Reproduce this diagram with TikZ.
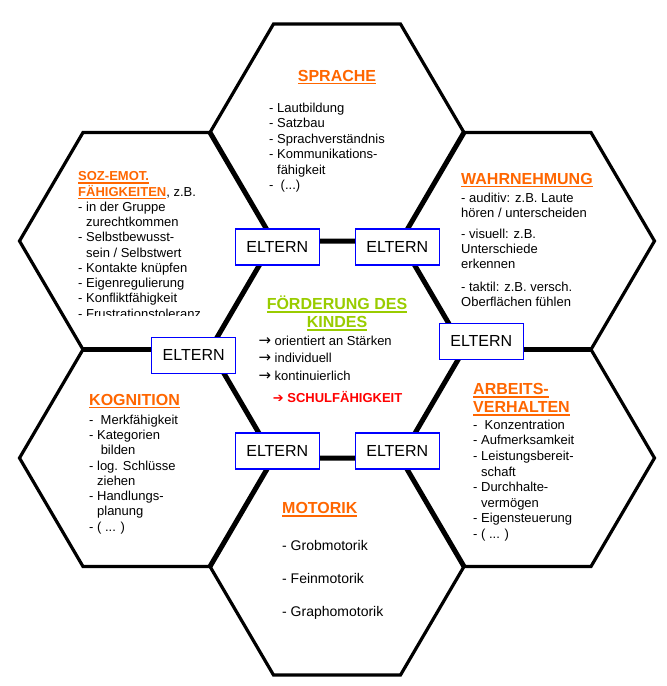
\documentclass[tikz,border=0pt]{standalone}
\usepackage{fontspec}
\setmainfont{Liberation Sans}
\newfontfamily\arrowfont{DejaVu Sans}
\usepackage{xcolor}
\usetikzlibrary{positioning}
\definecolor{headorange}{HTML}{FF6600}
\definecolor{headgreen}{HTML}{99CC00}
\definecolor{alertred}{HTML}{FF0000}
\definecolor{boxblue}{HTML}{0000FF}
\newcommand{\ulhead}[1]{\leavevmode\vtop{\hbox{#1}\kern1.5pt\hrule height 1.7pt}}
\newcommand{\toarrow}{{\arrowfont\fontsize{15}{15}\selectfont →}}
\tikzset{
    hexa/.style={
        draw,
        line width=3.2pt,
        line join=miter
    },
    spoke/.style={
        draw,
        line width=5pt
    },
    eltern/.style={
        draw=boxblue,
        fill=white,
        line width=1.3pt,
        minimum width=84pt,
        minimum height=36pt,
        inner sep=0pt,
        font=\fontsize{16}{19}\selectfont
    },
    txt/.style={
        anchor=base west,
        align=left,
        inner sep=0pt,
        font=\fontsize{13}{15.25}\selectfont
    },
    head/.style={
        anchor=base west,
        align=left,
        inner sep=0pt,
        text=headorange,
        font=\fontsize{16}{18}\selectfont\bfseries
    }
}

\begin{document}
\begin{tikzpicture}[x=1pt, y=-1pt]
  \useasboundingbox (0,0) rectangle (667,686);

  % Outer hexagons
  \foreach \cx/\cy in {337/132.5, 146.5/241, 527.5/241, 146.5/458, 527.5/458, 337/566.5}
    \draw[hexa] (\cx-127,\cy) -- (\cx-63.5,\cy-108.5) -- (\cx+63.5,\cy-108.5)
      -- (\cx+127,\cy) -- (\cx+63.5,\cy+108.5) -- (\cx-63.5,\cy+108.5) -- cycle;

  % Centre hexagon and shared edges
  \draw[spoke] (210,349.5) -- (273.5,241) -- (400.5,241) -- (464,349.5)
    -- (400.5,458) -- (273.5,458) -- cycle;
  \foreach \ax/\ay/\bx/\by in {273.5/241/210/132.5, 400.5/241/464/132.5,
      210/349.5/83/349.5, 464/349.5/591/349.5,
      273.5/458/210/566.5, 400.5/458/464/566.5}
    \draw[spoke] (\ax,\ay) -- (\bx,\by);

  % Sprache (multi-line nodes sit on their last baseline)
  \node[head, anchor=base] (sprache) at (337,81) {\ulhead{SPRACHE}};
  \node[txt, font=\fontsize{13}{15.5}\selectfont] (sprachelist) at (269,189.5)
    {- Lautbildung\\- Satzbau\\- Sprachverständnis\\- Kommunikations-\\\hphantom{- }fähigkeit\\-~~(...)};

  % Soz.-emot. Faehigkeiten
  \begin{scope}
    \clip (0,0) rectangle (300,315);
    \node[txt] (soz) at (78,318)
      {{\bfseries\color{headorange}\ulhead{SOZ-EMOT.}}\\{\bfseries\color{headorange}\ulhead{FÄHIGKEITEN}}, z.B.\\- in der Gruppe\\\hphantom{- }zurechtkommen\\- Selbstbewusst-\\\hphantom{- }sein / Selbstwert\\- Kontakte knüpfen\\- Eigenregulierung\\- Konfliktfähigkeit\\- Frustrationstoleranz};
  \end{scope}

  % Wahrnehmung
  \node[head] (wahr) at (461,184) {\ulhead{WAHRNEHMUNG}};
  \node[txt, font=\fontsize{13}{15.1}\selectfont] (wahrlist) at (461,306.1)
    {- auditiv: z.B. Laute\\hören / unterscheiden\\[6pt]- visuell: z.B.\\Unterschiede\\erkennen\\[7pt]- taktil: z.B. versch.\\Oberflächen fühlen};

  % Foerderung des Kindes
  \node[head, anchor=base, align=center, text=headgreen, font=\fontsize{16}{18.4}\selectfont\bfseries] (kind) at (337,327.7)
    {\ulhead{FÖRDERUNG DES}\\\ulhead{KINDES}};
  \node[txt, font=\fontsize{13}{17.5}\selectfont] (ziele) at (258.3,380)
    {\toarrow{} orientiert an Stärken\\\toarrow{} individuell\\\toarrow{} kontinuierlich};
  \node[txt, text=alertred, font=\fontsize{13}{15}\selectfont\bfseries] (schule) at (272.7,402.7)
    {{\arrowfont ➔} SCHULFÄHIGKEIT};

  % Kognition
  \node[head] (kog) at (89,405) {\ulhead{KOGNITION}};
  \node[txt] (koglist) at (89,531)
    {-~ Merkfähigkeit\\- Kategorien\\\hphantom{- }\ bilden\\- log. Schlüsse\\\hphantom{- }ziehen\\- Handlungs-\\\hphantom{- }planung\\- ( ... )};

  % Arbeitsverhalten
  \node[head] (arbeit) at (473,412.3) {\ulhead{ARBEITS-}\\\ulhead{VERHALTEN}};
  \node[txt, font=\fontsize{13}{15.6}\selectfont] (arbeitlist) at (473,538.5)
    {-~ Konzentration\\- Aufmerksamkeit\\- Leistungsbereit-\\\hphantom{- }schaft\\- Durchhalte-\\\hphantom{- }vermögen\\- Eigensteuerung\\- ( ... )};

  % Motorik
  \node[head] (motorik) at (282,513.3) {\ulhead{MOTORIK}};
  \node[txt, font=\fontsize{14}{33.3}\selectfont] (motoriklist) at (282,616.6)
    {- Grobmotorik\\- Feinmotorik\\- Graphomotorik};

  % Eltern
  \node[eltern] (eltnw) at (277.3,247) {ELTERN};
  \node[eltern] (eltne) at (397.3,247) {ELTERN};
  \node[eltern] (eltw) at (193.7,355.3) {ELTERN};
  \node[eltern] (elte) at (481.3,341.3) {ELTERN};
  \node[eltern] (eltsw) at (277.3,451) {ELTERN};
  \node[eltern] (eltse) at (397.3,451) {ELTERN};
\end{tikzpicture}
\end{document}
